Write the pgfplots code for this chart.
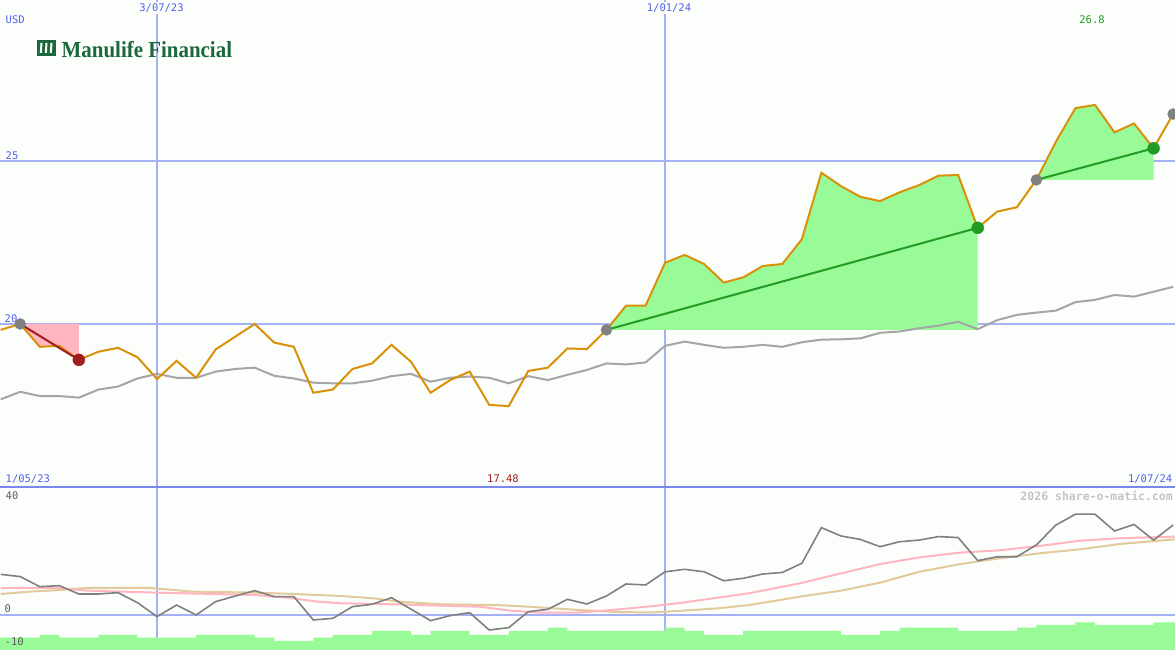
\documentclass[border=0pt]{standalone}
\usepackage{graphicx}
\usepackage{fontspec}
\usepackage{pgfplots}
\pgfplotsset{compat=1.18}
\newfontfamily\monof{DejaVu Sans Mono}
\newfontfamily\logof{Liberation Serif}
\definecolor{bg}{RGB}{252,254,252}
\definecolor{gridblue}{RGB}{164,178,245}
\definecolor{sepblue}{RGB}{120,136,235}
\definecolor{txtblue}{RGB}{80,96,238}
\definecolor{priceor}{RGB}{218,145,10}
\definecolor{magray}{RGB}{165,165,165}
\definecolor{palegr}{RGB}{152,251,152}
\definecolor{pinkf}{RGB}{255,182,193}
\definecolor{darkred}{RGB}{160,30,30}
\definecolor{trgreen}{RGB}{34,155,34}
\definecolor{osc}{RGB}{128,128,128}
\definecolor{tan}{RGB}{226,202,154}
\definecolor{logogreen}{RGB}{28,104,60}
\definecolor{wm}{RGB}{196,196,196}

\pgfplotstableread{
k v
0 19.82
1 20.00
2 19.30
3 19.33
4 18.90
5 19.15
6 19.27
7 18.98
8 18.31
9 18.87
10 18.35
11 19.22
12 19.61
13 20.00
14 19.43
15 19.30
16 17.89
17 17.99
18 18.62
19 18.79
20 19.36
21 18.84
22 17.89
23 18.28
24 18.54
25 17.52
26 17.48
27 18.56
28 18.66
29 19.25
30 19.23
31 19.82
32 20.56
33 20.56
34 21.88
35 22.12
36 21.84
37 21.27
38 21.43
39 21.78
40 21.84
41 22.60
42 24.64
43 24.23
44 23.90
45 23.77
46 24.04
47 24.26
48 24.55
49 24.57
50 22.95
51 23.45
52 23.58
53 24.42
54 25.59
55 26.62
56 26.72
57 25.88
58 26.15
59 25.39
60 26.44
}\price

\pgfplotstableread{
k v
0 17.69
1 17.92
2 17.79
3 17.79
4 17.74
5 17.99
6 18.08
7 18.33
8 18.47
9 18.35
10 18.35
11 18.54
12 18.62
13 18.66
14 18.41
15 18.33
16 18.20
17 18.18
18 18.18
19 18.26
20 18.40
21 18.47
22 18.23
23 18.35
24 18.39
25 18.35
26 18.18
27 18.40
28 18.28
29 18.44
30 18.59
31 18.79
32 18.76
33 18.82
34 19.33
35 19.46
36 19.36
37 19.27
38 19.30
39 19.36
40 19.30
41 19.44
42 19.52
43 19.53
44 19.56
45 19.73
46 19.77
47 19.87
48 19.95
49 20.07
50 19.84
51 20.12
52 20.28
53 20.35
54 20.41
55 20.67
56 20.74
57 20.89
58 20.84
59 20.99
60 21.14
}\ma

\pgfplotstableread{
k v
0 12.7
1 12.0
2 8.85
3 9.17
4 6.56
5 6.56
6 6.98
7 3.85
8 -0.5
9 3.1
10 0.0
11 4.17
12 5.94
13 7.6
14 5.73
15 5.73
16 -1.56
17 -1.04
18 2.6
19 3.33
20 5.42
21 1.8
22 -1.77
23 -0.2
24 0.73
25 -4.69
26 -3.96
27 1.04
28 1.77
29 4.9
30 3.44
31 5.94
32 9.69
33 9.38
34 13.5
35 14.27
36 13.5
37 10.7
38 11.46
39 12.8
40 13.3
41 16.15
42 27.3
43 24.7
44 23.6
45 21.35
46 22.9
47 23.4
48 24.5
49 24.2
50 17.0
51 18.2
52 18.2
53 21.9
54 28.1
55 31.5
56 31.5
57 26.25
58 28.3
59 23.4
60 28.1
}\osc

\pgfplotstableread{
k v
0 8.33
0.5 8.5
3.0 8.4
4.5 7.6
8.0 6.98
9.5 6.77
13.0 6.25
15.0 5.2
16.2 4.17
17.5 3.65
20.4 3.3
21.5 3.1
24.5 2.6
26.1 1.35
27.6 0.73
29.5 0.73
31.3 1.56
33.4 2.8
34.9 3.85
36.7 5.42
38.3 6.8
40.9 9.9
43.0 13.0
45.0 15.9
47.0 18.0
49.1 19.5
51.1 20.2
53.2 21.6
55.2 23.2
57.3 24.0
60.2 24.5
}\pinkma

\pgfplotstableread{
k v
0 6.56
1.5 7.3
3.0 7.8
4.5 8.5
7.5 8.5
8.5 8.0
9.8 7.3
13.0 7.0
15.0 6.56
17.4 5.94
19.1 5.2
20.4 4.17
22.5 3.33
25.4 3.1
27.0 2.6
29.5 1.6
31.7 0.9
33.4 0.8
34.9 1.35
36.7 2.08
38.3 3.1
40.9 5.73
43.0 7.6
45.0 10.1
47.0 13.5
49.1 15.9
51.1 17.7
53.2 19.3
55.2 20.5
57.3 22.2
60.2 23.7
}\tanma

\begin{document}
\begin{tikzpicture}
\fill[bg] (0,0) rectangle (1175pt,650pt);

% upper panel
\begin{axis}[at={(0pt,163pt)}, anchor=south west, width=1175pt, height=487pt,
  scale only axis, xmin=-0.0358, xmax=60.097, ymin=15.0, ymax=29.939,
  axis line style={draw=none}, tick style={draw=none},
  xtick={8,34}, ytick={20,25}, xticklabels={}, yticklabels={},
  xmajorgrids, ymajorgrids, major grid style={gridblue, line width=1.7pt}]
  % pink area (loss)
  \addplot[fill=pinkf, draw=none] coordinates {(1,20.0) (2,19.30) (3,19.33) (4,18.90) (4,20.0)} -- cycle;
  % green areas (gains)
  \addplot[fill=palegr, draw=none] coordinates {(31,19.82) (32,20.56) (33,20.56) (34,21.88) (35,22.12) (36,21.84) (37,21.27) (38,21.43) (39,21.78) (40,21.84) (41,22.60) (42,24.64) (43,24.23) (44,23.90) (45,23.77) (46,24.04) (47,24.26) (48,24.55) (49,24.57) (50,22.95) (50,19.82)} -- cycle;
  \addplot[fill=palegr, draw=none] coordinates {(53,24.42) (54,25.59) (55,26.62) (56,26.72) (57,25.88) (58,26.15) (59,25.39) (59,24.42)} -- cycle;
  \addplot[magray, line width=2pt] table[x=k,y=v] {\ma};
  \addplot[priceor, line width=2pt] table[x=k,y=v] {\price};
  \addplot[darkred, line width=2pt] coordinates {(1,20.0) (4,18.90)};
  \addplot[trgreen, line width=2pt] coordinates {(31,19.82) (50,22.95)};
  \addplot[trgreen, line width=2pt] coordinates {(53,24.42) (59,25.39)};
  \addplot[only marks, mark=*, mark size=5.5pt, mark options={fill=osc, draw=osc}] coordinates {(1,20.0) (31,19.82) (53,24.42) (60,26.44)};
  \addplot[only marks, mark=*, mark size=6pt, mark options={fill=darkred, draw=darkred}] coordinates {(4,18.90)};
  \addplot[only marks, mark=*, mark size=6pt, mark options={fill=trgreen, draw=trgreen}] coordinates {(50,22.95) (59,25.39)};
\end{axis}

% lower panel
\begin{axis}[at={(0pt,0pt)}, anchor=south west, width=1175pt, height=163pt,
  scale only axis, xmin=-0.0358, xmax=60.097, ymin=-10.94, ymax=40,
  axis line style={draw=none}, tick style={draw=none},
  xtick={8,34}, ytick={0}, xticklabels={}, yticklabels={},
  xmajorgrids, ymajorgrids, major grid style={gridblue, line width=1.7pt}]
  \addplot[const plot mark left, fill=palegr, draw=none] coordinates {
    (-1,-12) (-1,-7.1) (0,-7.1) (1,-7.1) (2,-6.25) (3,-7.1) (4,-7.1) (5,-6.25) (6,-6.25)
    (7,-7.1) (8,-7.1) (9,-7.1) (10,-6.25) (11,-6.25) (12,-6.25) (13,-7.1) (14,-8.1)
    (15,-8.1) (16,-7.1) (17,-6.25) (18,-6.25) (19,-5.0) (20,-5.0) (21,-6.25) (22,-5.0)
    (23,-5.0) (24,-6.25) (25,-6.25) (26,-5.0) (27,-5.0) (28,-3.96) (29,-5.0) (30,-5.0)
    (31,-5.0) (32,-5.0) (33,-5.0) (34,-3.96) (35,-5.0) (36,-6.25) (37,-6.25) (38,-5.0)
    (39,-5.0) (40,-5.0) (41,-5.0) (42,-5.0) (43,-6.25) (44,-6.25) (45,-5.0) (46,-3.96)
    (47,-3.96) (48,-3.96) (49,-5.0) (50,-5.0) (51,-5.0) (52,-3.96) (53,-3.1) (54,-3.1)
    (55,-2.3) (56,-3.1) (57,-3.1) (58,-3.1) (59,-2.3) (60,-2.3) (61,-2.3) (61,-12)} -- cycle;
  \addplot[tan, line width=2pt] table[x=k,y=v] {\tanma};
  \addplot[pinkf, line width=2pt] table[x=k,y=v] {\pinkma};
  \addplot[osc, line width=1.6pt] table[x=k,y=v] {\osc};
\end{axis}

\draw[sepblue, line width=1.7pt] (0,163pt) -- (1175pt,163pt);

\begin{scope}[shift={(0,650pt)}, x=1pt, y=-1pt]
  \tikzset{lab/.style={font=\monof\fontsize{10.5}{12}\selectfont, inner sep=0.5pt}}
  \node[lab, txtblue, anchor=west] at (5,20) {USD};
  \node[lab, txtblue, fill=bg, inner sep=2pt] at (161.5,8) {3/07/23};
  \node[lab, txtblue, fill=bg, inner sep=2pt] at (669,8) {1/01/24};
  \node[lab, trgreen] at (1092,20) {26.8};
  \node[lab, txtblue, anchor=west] at (5,156) {25};
  \node[lab, txtblue, anchor=west] at (4,319) {20};
  \node[lab, txtblue, anchor=west] at (5,479) {1/05/23};
  \node[lab, darkred] at (503,479) {17.48};
  \node[lab, txtblue, anchor=east] at (1173,479) {1/07/24};
  \node[lab, black!65, anchor=west] at (5,496) {40};
  \node[lab, black!65, anchor=west] at (4,609) {0};
  \node[lab, black!65, anchor=west] at (4,642) {-10};
  \node[font=\monof\bfseries\fontsize{11.5}{13}\selectfont, wm, anchor=east, inner sep=0pt] at (1173,496) {2026 share-o-matic.com};
  % logo
  \fill[logogreen] (37,40) rectangle (55.5,56);
  \fill[white] (40.5,43) -- (42.5,43) -- (41.8,53) -- (39.8,53) -- cycle;
  \fill[white] (45.5,43) -- (47.5,43) -- (46.8,53) -- (44.8,53) -- cycle;
  \fill[white] (50.5,43) -- (52.5,43) -- (51.8,53) -- (49.8,53) -- cycle;
  \node[anchor=base west, inner sep=0pt, logogreen] at (61.5,58) {\scalebox{0.91}[1]{\logof\bfseries\fontsize{23}{25}\selectfont Manulife Financial}};
\end{scope}

\pgfresetboundingbox
\path[use as bounding box] (0,0) rectangle (1175pt,650pt);
\end{tikzpicture}
\end{document}
